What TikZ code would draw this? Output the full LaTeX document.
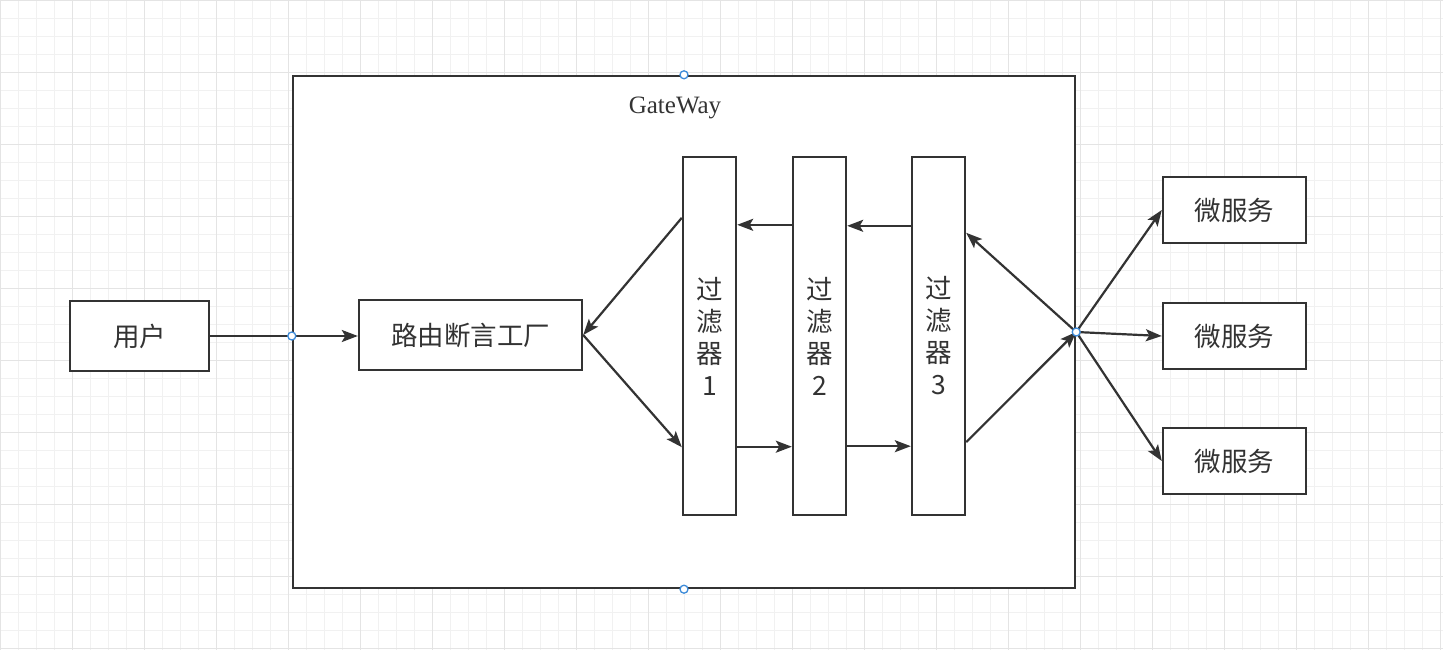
\documentclass[tikz,border=0pt]{standalone}
\usepackage{fontspec}
\setmainfont{Liberation Serif}
\newfontfamily\cjk{Noto Sans CJK SC}
\usetikzlibrary{arrows.meta,calc}
\definecolor{ink}{HTML}{333333}
\definecolor{gridminor}{HTML}{F1F1F1}
\definecolor{gridmajor}{HTML}{E4E4E4}
\definecolor{hint}{HTML}{3D8BD9}
\tikzset{
  box/.style={draw=ink, line width=2.4pt, fill=white, text=ink, inner sep=0pt,
    font=\cjk\fontsize{26.5}{32}\selectfont},
  filterbox/.style={box, minimum width=53pt, minimum height=358pt, align=center},
  svcbox/.style={box, minimum width=143pt, minimum height=66pt},
  conn/.style={draw=ink, line width=2.2pt, -{Stealth[length=16pt,width=12pt,inset=3.5pt]}},
  hintdot/.style={circle, draw=hint, fill=white, line width=1.3pt, minimum size=8pt, inner sep=0pt}
}
\begin{document}
\begin{tikzpicture}[x=1pt,y=-1pt]
\useasboundingbox (0,0) rectangle (1443,650);
\fill[white] (0,0) rectangle (1443,650);
% grid
\foreach \i in {0,...,80} {
  \pgfmathsetmacro\gx{0.7+18*\i}
  \draw[gridminor, line width=0.8pt] (\gx,0) -- (\gx,650);
}
\foreach \i in {0,...,36} {
  \pgfmathsetmacro\gy{0.7+18*\i}
  \draw[gridminor, line width=0.8pt] (0,\gy) -- (1443,\gy);
}
\foreach \i in {0,...,20} {
  \pgfmathsetmacro\gx{0.7+72*\i}
  \draw[gridmajor, line width=0.9pt] (\gx,0) -- (\gx,650);
}
\foreach \i in {0,...,9} {
  \pgfmathsetmacro\gy{0.7+72*\i}
  \draw[gridmajor, line width=0.9pt] (0,\gy) -- (1443,\gy);
}

% gateway container
\node[box, minimum width=782pt, minimum height=512pt] (gw) at (684,332) {};
\node[text=ink, font=\fontsize{25}{30}\selectfont] (gwlabel) at (675,108) {GateWay};

% nodes
\node[box, minimum width=139pt, minimum height=70pt] (user) at (139.5,336) {用户};
\node[box, minimum width=223pt, minimum height=70pt] (route) at (470.5,335) {路由断言工厂};
\node[filterbox] (f1) at (709.5,336) {过\\滤\\器\\1};
\node[filterbox] (f2) at (819.5,336) {过\\滤\\器\\2};
\node[filterbox] (f3) at (938.5,336) {过\\滤\\器\\3};
\node[svcbox] (m1) at (1234.5,210) {微服务};
\node[svcbox] (m2) at (1234.5,336) {微服务};
\node[svcbox] (m3) at (1234.5,461) {微服务};

\coordinate (hub) at (gw.east);

% connectors
\draw[conn] (user.east) -- (user.east -| route.west);
\draw[conn] ($(f1.north west)+(0,62)$) -- (route.east);
\draw[conn] (route.east) -- ($(f1.south west)+(0,-69)$);
\draw[conn] ($(f1.south east)+(0,-69.5)$) -- ($(f2.south west)+(0,-69.5)$);
\draw[conn] ($(f2.south east)+(0,-70)$) -- ($(f3.south west)+(0,-70)$);
\draw[conn] ($(f3.north west)+(0,70)$) -- ($(f2.north east)+(0,70)$);
\draw[conn] ($(f2.north west)+(0,69)$) -- ($(f1.north east)+(0,69)$);
\draw[conn] ($(f3.south east)+(0,-74)$) -- (hub);
\draw[conn] (hub) -- ($(f3.north east)+(0,77)$);
\draw[conn] (hub) -- (m1.west);
\draw[conn] (hub) -- (m2.west);
\draw[conn] (hub) -- (m3.west);

% connection hints
\node[hintdot] (h1) at (gw.north) {};
\node[hintdot] (h2) at (gw.south) {};
\node[hintdot] (h3) at (user.east -| gw.west) {};
\node[hintdot] (h4) at (hub) {};
\end{tikzpicture}
\end{document}
